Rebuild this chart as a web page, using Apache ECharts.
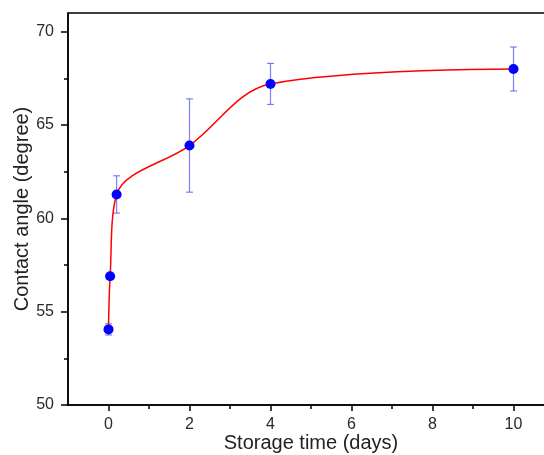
<!DOCTYPE html>
<html><head><meta charset="utf-8">
<script src="https://cdn.jsdelivr.net/npm/echarts@6/dist/echarts.min.js"></script>
<style>html,body{margin:0;padding:0;background:#fff}#c{width:544px;height:455px}</style>
</head><body><div id="c"></div>
<script>
const xDays = [0, 0.04, 0.2, 2, 4, 10];
const angle = [54.05, 56.9, 61.28, 63.9, 67.2, 68.0];
const errVal = [0.3, 0.15, 1.0, 2.5, 1.1, 1.18];
const xTicks = [0, 2, 4, 6, 8, 10];
const xMinor = [1, 3, 5, 7, 9];
const yTicks = [50, 55, 60, 65, 70];
const yMinor = [52.5, 57.5, 62.5, 67.5];

const pts = xDays.map((x, i) => [x, angle[i]]);
const errData = xDays.map((x, i) => [x, angle[i], errVal[i]]);
const font = 'Liberation Sans, Arial, sans-serif';

const chart = echarts.init(document.getElementById('c'), null, {renderer: 'canvas'});
chart.setOption({
  animation: false,
  grid: {left: 68, top: 13, width: 486, height: 392, outerBoundsMode: 'none', containLabel: false,
         show: true, borderColor: '#000', borderWidth: 1.5, backgroundColor: 'transparent'},
  xAxis: [{
    type: 'value', min: -1, max: 11,
    name: 'Storage time (days)', nameLocation: 'middle', nameGap: 28, nameMoveOverlap: false,
    nameTextStyle: {fontFamily: font, fontSize: 20, color: '#222'},
    axisLine: {show: true, onZero: false, lineStyle: {color: '#000', width: 1.5}},
    axisTick: {show: true, inside: false, length: 6, lineStyle: {color: '#000', width: 1.5}, customValues: xTicks},
    axisLabel: {show: true, margin: 12, fontFamily: font, fontSize: 16, color: '#2a2a2a', customValues: xTicks},
    splitLine: {show: false}
  }, {
    type: 'value', min: -1, max: 11, position: 'bottom',
    axisLine: {show: false, onZero: false},
    axisTick: {show: true, inside: false, length: 4, lineStyle: {color: '#000', width: 1.5}, customValues: xMinor},
    axisLabel: {show: false},
    splitLine: {show: false}
  }],
  yAxis: [{
    type: 'value', min: 50, max: 71,
    name: 'Contact angle (degree)', nameLocation: 'middle', nameGap: 36, nameMoveOverlap: false,
    nameTextStyle: {fontFamily: font, fontSize: 20, color: '#222'},
    axisLine: {show: true, onZero: false, lineStyle: {color: '#000', width: 1.5}},
    axisTick: {show: true, inside: false, length: 7, lineStyle: {color: '#000', width: 1.5}, customValues: yTicks},
    axisLabel: {show: true, margin: 14, fontFamily: font, fontSize: 16, color: '#2a2a2a', customValues: yTicks},
    splitLine: {show: false}
  }, {
    type: 'value', min: 50, max: 71, position: 'left',
    axisLine: {show: false, onZero: false},
    axisTick: {show: true, inside: false, length: 4, lineStyle: {color: '#000', width: 1.5}, customValues: yMinor},
    axisLabel: {show: false},
    splitLine: {show: false}
  }],
  series: [{
    type: 'custom', xAxisIndex: 0, yAxisIndex: 0, z: 1,
    data: errData,
    renderItem: function (params, api) {
      const x = api.value(0), y = api.value(1), e = api.value(2);
      const t = api.coord([x, y + e]), b = api.coord([x, y - e]);
      const w = 3.5;
      const st = {stroke: 'rgba(60,60,255,0.65)', lineWidth: 1.2};
      return {type: 'group', children: [
        {type: 'line', shape: {x1: t[0], y1: t[1], x2: b[0], y2: b[1]}, style: st},
        {type: 'line', shape: {x1: t[0] - w, y1: t[1], x2: t[0] + w, y2: t[1]}, style: st},
        {type: 'line', shape: {x1: b[0] - w, y1: b[1], x2: b[0] + w, y2: b[1]}, style: st}
      ]};
    }
  }, {
    type: 'line', xAxisIndex: 0, yAxisIndex: 0, z: 2,
    data: pts, smooth: 0.35, symbol: 'none',
    lineStyle: {color: '#ff0000', width: 1.5}
  }, {
    type: 'scatter', xAxisIndex: 0, yAxisIndex: 0, z: 3,
    data: pts, symbol: 'circle', symbolSize: 10,
    itemStyle: {color: '#0000ff', opacity: 1}
  }]
});
</script></body></html>
